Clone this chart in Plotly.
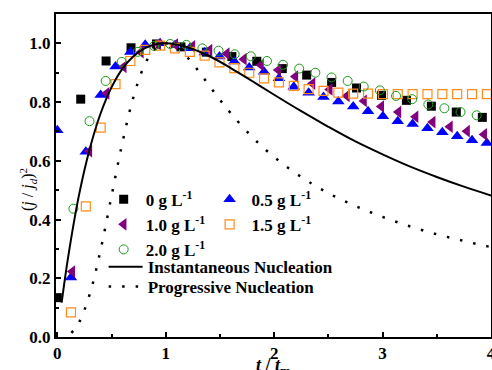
import plotly.graph_objects as go

# ---- data ----
black_x = [0.0, 0.216, 0.450, 0.680, 0.915, 1.140, 1.375, 1.610, 1.840, 2.075, 2.300, 2.530, 2.760, 2.990, 3.220, 3.450, 3.680, 3.920]
black_y = [0.134, 0.810, 0.940, 0.985, 0.998, 0.988, 0.970, 0.955, 0.939, 0.914, 0.892, 0.867, 0.848, 0.823, 0.806, 0.786, 0.766, 0.748]

blue_x = [0.0, 0.126, 0.263, 0.400, 0.537, 0.674, 0.811, 0.948, 1.085, 1.222, 1.359, 1.496, 1.633, 1.770, 1.907,
          2.044, 2.181, 2.318, 2.455, 2.592, 2.729, 2.866, 3.003, 3.140, 3.277, 3.414, 3.551, 3.688, 3.825, 3.962]
blue_y = [0.704, 0.203, 0.631, 0.824, 0.921, 0.971, 0.995, 1.000, 0.994, 0.983, 0.969, 0.955, 0.938, 0.918, 0.903,
          0.881, 0.852, 0.832, 0.817, 0.802, 0.785, 0.769, 0.752, 0.735, 0.725, 0.711, 0.697, 0.684, 0.670, 0.661]

purple_x = [0.138, 0.296, 0.455, 0.613, 0.771, 0.930, 1.088, 1.246, 1.404, 1.563, 1.721, 1.879, 2.038, 2.196, 2.354,
            2.513, 2.671, 2.829, 2.988, 3.146, 3.304, 3.462, 3.621, 3.779, 3.937]
purple_y = [0.223, 0.633, 0.830, 0.920, 0.970, 0.997, 0.996, 0.990, 0.977, 0.965, 0.946, 0.926, 0.909, 0.887, 0.863,
            0.843, 0.821, 0.804, 0.785, 0.766, 0.750, 0.732, 0.716, 0.701, 0.690]

orange_x = [0.126, 0.263, 0.400, 0.537, 0.674, 0.811, 0.948, 1.085, 1.222, 1.359, 1.496, 1.633, 1.770, 1.907,
            2.044, 2.181, 2.318, 2.455, 2.592, 2.729, 2.866, 3.003, 3.140, 3.277, 3.414, 3.551, 3.688, 3.825, 3.962]
orange_y = [0.084, 0.445, 0.713, 0.861, 0.940, 0.978, 0.992, 0.983, 0.971, 0.958, 0.935, 0.916, 0.900, 0.881,
            0.867, 0.855, 0.844, 0.838, 0.832, 0.829, 0.829, 0.827, 0.827, 0.827, 0.827, 0.827, 0.827, 0.827, 0.827]

green_x = [0.148, 0.297, 0.446, 0.594, 0.743, 0.892, 1.041, 1.190, 1.338, 1.487, 1.636, 1.785, 1.934, 2.082, 2.231,
           2.380, 2.529, 2.678, 2.826, 2.975, 3.124, 3.273, 3.422, 3.570, 3.719, 3.868]
green_y = [0.437, 0.735, 0.872, 0.937, 0.971, 0.991, 0.998, 0.995, 0.983, 0.975, 0.963, 0.956, 0.940, 0.927, 0.914,
           0.900, 0.884, 0.872, 0.853, 0.840, 0.821, 0.810, 0.792, 0.779, 0.766, 0.755]

inst_t = [0.04, 0.1, 0.2, 0.3, 0.4, 0.5, 0.6, 0.7, 0.8, 0.9, 1.0, 1.2, 1.4, 1.6, 1.8, 2.0, 2.25, 2.5, 2.75, 3.0,
          3.25, 3.5, 3.75, 4.0]
inst_y = [0.117, 0.272, 0.483, 0.642, 0.762, 0.850, 0.913, 0.955, 0.982, 0.996, 1.000, 0.987, 0.957, 0.916, 0.871,
          0.825, 0.769, 0.716, 0.666, 0.622, 0.581, 0.545, 0.512, 0.482]

prog_t = [0.13, 0.2, 0.3, 0.4, 0.5, 0.6, 0.7, 0.8, 0.9, 1.0, 1.1, 1.2, 1.3, 1.4, 1.5, 1.6, 1.8, 2.0, 2.25, 2.5,
          2.75, 3.0, 3.25, 3.5, 3.75, 4.0]
prog_y = [0.014, 0.049, 0.147, 0.298, 0.480, 0.661, 0.814, 0.922, 0.982, 1.000, 0.986, 0.952, 0.907, 0.857, 0.808,
          0.762, 0.680, 0.613, 0.545, 0.490, 0.446, 0.409, 0.377, 0.350, 0.327, 0.306]

x_ticks = [0, 1, 2, 3, 4]
y_ticks = [0.0, 0.2, 0.4, 0.6, 0.8, 1.0]

FONT = "Liberation Serif"

fig = go.Figure()

fig.add_trace(go.Scatter(x=black_x, y=black_y, mode="markers", name="0 g L<sup>-1</sup>",
                         marker=dict(symbol="square", size=9, color="black"), legend="legend"))
fig.add_trace(go.Scatter(x=blue_x, y=blue_y, mode="markers", name="0.5 g L<sup>-1</sup>",
                         marker=dict(symbol="triangle-up", size=11, color="#0000ff"), legend="legend2"))
fig.add_trace(go.Scatter(x=purple_x, y=purple_y, mode="markers", name="1.0 g L<sup>-1</sup>",
                         marker=dict(symbol="triangle-left", size=11, color="#800080"), legend="legend"))
fig.add_trace(go.Scatter(x=orange_x, y=orange_y, mode="markers", name="1.5 g L<sup>-1</sup>",
                         marker=dict(symbol="square-open", size=9, color="#ff8c1a", line=dict(width=1.2)),
                         legend="legend2"))
fig.add_trace(go.Scatter(x=green_x, y=green_y, mode="markers", name="2.0 g L<sup>-1</sup>",
                         marker=dict(symbol="circle-open", size=9, color="#1a9a1a", line=dict(width=1)),
                         legend="legend"))
fig.add_trace(go.Scatter(x=inst_t, y=inst_y, mode="lines", name="Instantaneous Nucleation",
                         line=dict(color="black", width=2, shape="spline"), legend="legend3"))
fig.add_trace(go.Scatter(x=prog_t, y=prog_y, mode="lines", name="Progressive Nucleation",
                         line=dict(color="black", width=2.5, shape="spline", dash="2.5px,11px"), legend="legend4"))

axis_common = dict(showline=True, linecolor="black", linewidth=2, mirror=True, showgrid=False,
                   zeroline=False, ticks="inside", ticklen=5, tickwidth=1.5, tickcolor="black",
                   automargin=False, ticklabeloverflow="allow",
                   tickfont=dict(family=FONT, size=17, color="black", weight="bold"))

fig.update_xaxes(range=[-0.012, 4.0], tickvals=x_ticks, ticktext=[str(v) for v in x_ticks],
                 minor=dict(ticks="inside", ticklen=3, tickwidth=1.5, tickcolor="black", dtick=0.5),
                 **axis_common)
fig.update_yaxes(range=[0, 1.1], tickvals=y_ticks, ticktext=[f"{v:.1f}" for v in y_ticks],
                 minor=dict(ticks="inside", ticklen=3, tickwidth=1.5, tickcolor="black", dtick=0.1),
                 **axis_common)

# axis titles as positioned text
fig.add_annotation(text="<b><i>t</i> / <i>t</i><sub>m</sub></b>", xref="paper", yref="paper",
                   x=0.499, y=-0.05, xanchor="center", yanchor="top", showarrow=False,
                   font=dict(family=FONT, size=18, color="black"))
fig.add_annotation(text="(<i>j</i> / <i>j</i><sub><i>d</i></sub>)<sup>2</sup>", xref="paper", yref="paper",
                   x=-0.066, y=0.456, xanchor="center", yanchor="middle", textangle=-90, showarrow=False,
                   font=dict(family=FONT, size=16, color="black"))

leg_font = dict(family=FONT, size=17, color="black", weight="bold")
leg_common = dict(xanchor="left", yanchor="top", bgcolor="rgba(0,0,0,0)", font=leg_font,
                  tracegroupgap=0, itemwidth=34)
fig.update_layout(
    width=492, height=370,
    margin=dict(l=56, r=1, t=14, b=33, autoexpand=False),
    paper_bgcolor="white", plot_bgcolor="white",
    showlegend=True,
    legend=dict(x=0.105, y=0.481, **leg_common),
    legend2=dict(x=0.3485, y=0.481, **leg_common),
    legend3=dict(x=0.1095, y=0.272, **leg_common),
    legend4=dict(x=0.1095, y=0.2105, **leg_common),
)

fig.write_html("out.html", config={"displayModeBar": False},
               post_script="document.body.style.margin='0px';")
